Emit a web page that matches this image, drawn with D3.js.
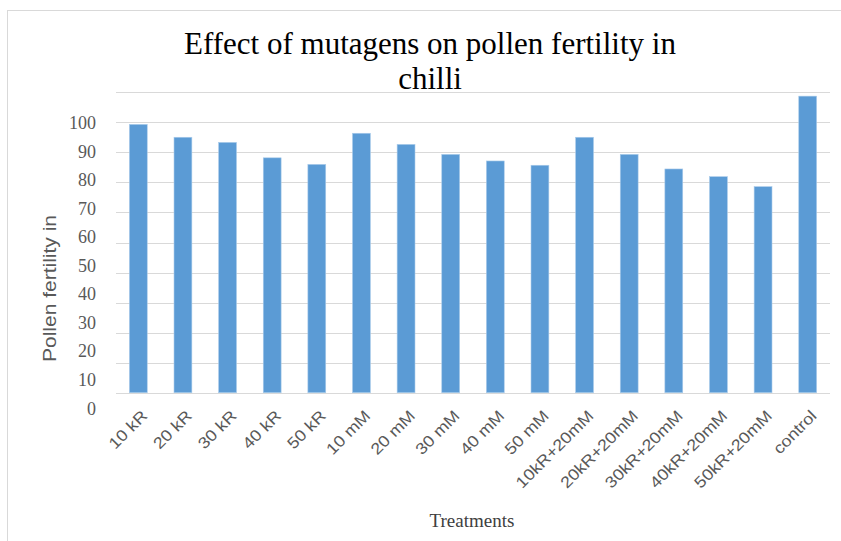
<!DOCTYPE html>
<html>
<head>
<meta charset="utf-8">
<script src="https://cdn.jsdelivr.net/npm/d3@7"></script>
<style>
  html, body { margin: 0; padding: 0; background: #fff; }
  svg { display: block; }
</style>
</head>
<body>
<div id="chart"></div>
<script>
const categories = ["10 kR","20 kR","30 kR","40 kR","50 kR","10 mM","20 mM","30 mM","40 mM","50 mM",
  "10kR+20mM","20kR+20mM","30kR+20mM","40kR+20mM","50kR+20mM","control"];
const values = [99.4, 94.9, 93.1, 87.7, 85.4, 96.3, 92.4, 88.9, 86.6, 85.1,
  94.9, 88.9, 83.8, 81.1, 77.6, 109.3];
const yTickValues = [0, 10, 20, 30, 40, 50, 60, 70, 80, 90, 100];
const gridValues = [0, 10, 20, 30, 40, 50, 60, 70, 80, 90, 100];
const titleLines = ["Effect of mutagens on pollen fertility in", "chilli"];
const xTitle = "Treatments";
const yTitle = "Pollen fertility in";

const W = 841, H = 541;
const plot = { left: 116, right: 830, top: 92.3, bottom: 392.7 };

const svg = d3.select("#chart").append("svg").attr("width", W).attr("height", H);
svg.append("rect").attr("width", W).attr("height", H).attr("fill", "#fff");
// chart area border
svg.append("rect").attr("x", 7.5).attr("y", 10.5).attr("width", 900).attr("height", 600)
  .attr("fill", "none").attr("stroke", "#D9D9D9").attr("stroke-width", 1);

const x = d3.scaleBand().domain(categories).range([plot.left, plot.right])
  .paddingInner(0.6).paddingOuter(0.3);
const grid = d3.scaleLinear().domain([0, 100]).range([plot.bottom, plot.top]);
const y = d3.scaleLinear().domain([0, 100]).range([408.3, 122.7]);

// gridlines
svg.append("g").selectAll("line").data(gridValues).join("line")
  .attr("x1", plot.left).attr("x2", plot.right)
  .attr("y1", d => Math.round(grid(d)) + 0.5).attr("y2", d => Math.round(grid(d)) + 0.5)
  .attr("stroke", "#D9D9D9").attr("stroke-width", 1);

// bars
svg.append("g").selectAll("rect").data(values).join("rect")
  .attr("x", (d, i) => x(categories[i]))
  .attr("width", x.bandwidth())
  .attr("y", d => y(d))
  .attr("height", d => plot.bottom - y(d))
  .attr("fill", "#5B9BD5")
  .attr("stroke", "#A9CBEA").attr("stroke-width", 0.6);

// y axis labels
const yAxis = d3.axisLeft(y).tickValues(yTickValues).tickSize(0).tickPadding(0);
const gy = svg.append("g").attr("transform", "translate(96,0)").call(yAxis);
gy.select(".domain").remove();
gy.selectAll("text").attr("font-family", "'Liberation Serif', 'Times New Roman', serif")
  .attr("font-size", 18).attr("fill", "#595959");

// x axis labels
const gx = svg.append("g");
gx.selectAll("text").data(categories).join("text")
  .attr("transform", d => `translate(${x(d) + x.bandwidth() / 2 + 6},${413}) rotate(-45)`)
  .attr("text-anchor", "end").attr("dy", "0.35em")
  .attr("font-family", "'Liberation Sans', Arial, sans-serif")
  .attr("font-size", 16).attr("fill", "#595959")
  .text(d => d)
  .each(function () {
    const len = this.getComputedTextLength();
    d3.select(this).attr("textLength", len * 1.12).attr("lengthAdjust", "spacingAndGlyphs");
  });

// title
svg.append("g").selectAll("text").data(titleLines).join("text")
  .attr("x", 430).attr("y", (d, i) => 53.5 + i * 35)
  .attr("text-anchor", "middle")
  .attr("font-family", "'Liberation Serif', 'Times New Roman', serif")
  .attr("font-size", 31).attr("fill", "#000")
  .text(d => d);

// axis titles
svg.append("text").attr("x", 472).attr("y", 527).attr("text-anchor", "middle")
  .attr("font-family", "'Liberation Serif', 'Times New Roman', serif")
  .attr("font-size", 19).attr("fill", "#404040").text(xTitle);

svg.append("text").attr("transform", "translate(56,288.5) rotate(-90)")
  .attr("text-anchor", "middle")
  .attr("font-family", "'Liberation Sans', Arial, sans-serif")
  .attr("font-size", 19).attr("fill", "#595959")
  .attr("textLength", 147).attr("lengthAdjust", "spacingAndGlyphs")
  .text(yTitle);
</script>
</body>
</html>
